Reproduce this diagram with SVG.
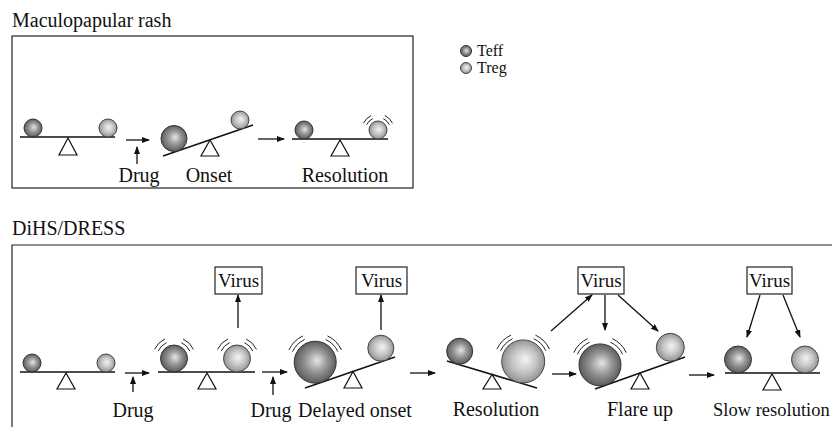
<svg xmlns="http://www.w3.org/2000/svg" xmlns:xlink="http://www.w3.org/1999/xlink" width="832" height="427" viewBox="0 0 832 427">
<defs>
<style>
text{font-family:"Liberation Serif","Times New Roman",serif;font-size:20px;fill:#111}
.lbl{text-anchor:middle}
.leg{font-size:16px}
.vt{font-size:19px;text-anchor:middle}
.beam{stroke:#111;stroke-width:1.5;fill:none}
.tri{fill:#fff;stroke:#111;stroke-width:1.2}
.box{fill:none;stroke:#222;stroke-width:1.2}
.vbox{fill:#fff;stroke:#222;stroke-width:1.2}
.arr{stroke:#111;stroke-width:1.3;fill:none;marker-end:url(#ah)}
.teff{fill:url(#gTeff);stroke:#333;stroke-width:1}
.treg{fill:url(#gTreg);stroke:#444;stroke-width:1}
.vib{fill:none;stroke:#222;stroke-width:1}
</style>
<radialGradient id="gTeff" cx="0.5" cy="0.5" r="0.55" fx="0.55" fy="0.45">
<stop offset="0" stop-color="#e6e6e6"/><stop offset="0.45" stop-color="#999"/><stop offset="1" stop-color="#505050"/>
</radialGradient>
<radialGradient id="gTreg" cx="0.5" cy="0.5" r="0.55" fx="0.55" fy="0.45">
<stop offset="0" stop-color="#f4f4f4"/><stop offset="0.5" stop-color="#c6c6c6"/><stop offset="1" stop-color="#888"/>
</radialGradient>
<marker id="ah" markerWidth="8" markerHeight="6" refX="7" refY="3" orient="auto" markerUnits="userSpaceOnUse">
<path d="M0,0 L8,3 L0,6 Z" fill="#111"/>
</marker>
<g id="vib9" class="vib">
<path d="M-11.33,-5.28 A12.5 12.5 0 0 1 -5.28,-11.33 M-14.5,-6.76 A16 16 0 0 1 -6.76,-14.5 M5.28,-11.33 A12.5 12.5 0 0 1 11.33,-5.28 M6.76,-14.5 A16 16 0 0 1 14.5,-6.76"/>
</g>
<g id="vib13" class="vib">
<path d="M-15.86,-7.4 A17.5 17.5 0 0 1 -7.4,-15.86 M-19.49,-9.09 A21.5 21.5 0 0 1 -9.09,-19.49 M7.4,-15.86 A17.5 17.5 0 0 1 15.86,-7.4 M9.09,-19.49 A21.5 21.5 0 0 1 19.49,-9.09"/>
</g>
<g id="vib21" class="vib">
<path d="M-22.66,-10.57 A25 25 0 0 1 -10.57,-22.66 M-26.28,-12.26 A29 29 0 0 1 -12.26,-26.28 M10.57,-22.66 A25 25 0 0 1 22.66,-10.57 M12.26,-26.28 A29 29 0 0 1 26.28,-12.26"/>
</g>
</defs>
<rect width="832" height="427" fill="#fff"/>

<g id="panel-top">
<text x="12" y="27">Maculopapular rash</text>
<rect class="box" x="12" y="36" width="401" height="152"/>
</g>

<g id="legend">
<circle class="teff" cx="466" cy="51" r="5.5"/>
<text class="leg" x="477" y="56">Teff</text>
<circle class="treg" cx="466" cy="68" r="5.5"/>
<text class="leg" x="477" y="73">Treg</text>
</g>

<g id="top-baseline">
<line class="beam" x1="20" y1="137" x2="115" y2="137"/>
<polygon class="tri" points="68,138 59,155 77,155"/>
<circle class="teff" cx="33" cy="128" r="9"/>
<circle class="treg" cx="108" cy="128" r="9"/>
</g>
<g id="top-onset">
<line class="beam" x1="163" y1="156" x2="253" y2="125"/>
<polygon class="tri" points="210,140 201,156 219,156"/>
<circle class="teff" cx="174" cy="138.5" r="13"/>
<circle class="treg" cx="240" cy="120" r="9"/>
<text class="lbl" x="209" y="182">Onset</text>
</g>
<g id="top-resolution">
<line class="beam" x1="292" y1="139" x2="388" y2="139"/>
<polygon class="tri" points="340,140 331,156 349,156"/>
<circle class="teff" cx="304" cy="130" r="9"/>
<circle class="treg" cx="378" cy="130" r="9"/>
<use xlink:href="#vib9" transform="translate(378,130)"/>
<text class="lbl" x="345" y="182">Resolution</text>
</g>
<g id="top-drug">
<text class="lbl" x="139" y="182">Drug</text>
</g>

<g id="panel-bottom">
<text x="12" y="235">DiHS/DRESS</text>
<path class="box" d="M840,245 H12 V427"/>
</g>

<g id="b-baseline">
<line class="beam" x1="20" y1="372" x2="115" y2="372"/>
<polygon class="tri" points="66,373 57,389 75,389"/>
<circle class="teff" cx="32" cy="363" r="9"/>
<circle class="treg" cx="106" cy="363" r="9"/>
</g>
<g id="b-drug1"><text class="lbl" x="133" y="417">Drug</text></g>
<g id="b-activated">
<line class="beam" x1="158" y1="372" x2="255" y2="372"/>
<polygon class="tri" points="207,373 198,389 216,389"/>
<circle class="teff" cx="174" cy="358.5" r="13.5"/>
<circle class="treg" cx="237" cy="358.5" r="13.5"/>
<use xlink:href="#vib13" transform="translate(174,358.5)"/>
<use xlink:href="#vib13" transform="translate(237,358.5)"/>
</g>
<g id="virus1">
<rect class="vbox" x="215" y="267" width="47" height="27"/>
<text class="vt" x="238.5" y="287">Virus</text>
</g>
<g id="b-drug2"><text class="lbl" x="271" y="417">Drug</text></g>
<g id="b-delayed">
<line class="beam" x1="305" y1="388" x2="395" y2="357"/>
<polygon class="tri" points="353,371.5 344,388 362,388"/>
<circle class="teff" cx="315.2" cy="362.2" r="21"/>
<circle class="treg" cx="380.8" cy="348.2" r="13"/>
<use xlink:href="#vib21" transform="translate(315.2,362.2)"/>
<text class="lbl" x="355" y="417">Delayed onset</text>
</g>
<g id="virus2">
<rect class="vbox" x="356" y="267" width="51" height="27"/>
<text class="vt" x="381.5" y="287">Virus</text>
</g>
<g id="b-resolution">
<line class="beam" x1="447" y1="361" x2="537" y2="388"/>
<polygon class="tri" points="492,374.5 483,389 501,389"/>
<circle class="teff" cx="459.7" cy="351.2" r="13"/>
<circle class="treg" cx="523.2" cy="361.4" r="21.5"/>
<use xlink:href="#vib21" transform="translate(523.2,361.4)"/>
<text class="lbl" x="496" y="416">Resolution</text>
</g>
<g id="virus3">
<rect class="vbox" x="578" y="267" width="46" height="27"/>
<text class="vt" x="601" y="287">Virus</text>
</g>
<g id="b-flare">
<line class="beam" x1="595" y1="389" x2="685" y2="357"/>
<polygon class="tri" points="640,373 631,389 649,389"/>
<circle class="teff" cx="600" cy="364.9" r="21"/>
<circle class="treg" cx="670.3" cy="347.3" r="14"/>
<use xlink:href="#vib21" transform="translate(600,364.9)"/>
<text class="lbl" x="640" y="416">Flare up</text>
</g>
<g id="virus4">
<rect class="vbox" x="747" y="267" width="45" height="27"/>
<text class="vt" x="769.5" y="287">Virus</text>
</g>
<g id="b-slow">
<line class="beam" x1="725" y1="373" x2="820" y2="373"/>
<polygon class="tri" points="772,374 763,390 781,390"/>
<circle class="teff" cx="738" cy="359.5" r="13.5"/>
<circle class="treg" cx="805" cy="359.5" r="13.5"/>
<text x="713" y="416" style="font-size:18.5px">Slow resolution</text>
</g>

<g id="connectors">
<line class="arr" x1="126" y1="140" x2="149" y2="140"/>
<line class="arr" x1="137" y1="164" x2="137" y2="147"/>
<line class="arr" x1="258" y1="139" x2="284" y2="139"/>
<line class="arr" x1="125" y1="373" x2="149" y2="373"/>
<line class="arr" x1="133" y1="392" x2="133" y2="377"/>
<line class="arr" x1="238" y1="328" x2="238" y2="295"/>
<line class="arr" x1="262" y1="372" x2="287" y2="372"/>
<line class="arr" x1="273" y1="395" x2="273" y2="377"/>
<line class="arr" x1="381" y1="330" x2="381" y2="295"/>
<line class="arr" x1="410" y1="373" x2="435" y2="373"/>
<line class="arr" x1="552" y1="374" x2="576" y2="374"/>
<line class="arr" x1="551" y1="331" x2="592" y2="295"/>
<line class="arr" x1="605" y1="295" x2="605" y2="330"/>
<line class="arr" x1="618" y1="295" x2="658" y2="331"/>
<line class="arr" x1="689" y1="375" x2="714" y2="375"/>
<line class="arr" x1="760" y1="295" x2="747" y2="337"/>
<line class="arr" x1="783" y1="295" x2="800" y2="337"/>
</g>
</svg>
